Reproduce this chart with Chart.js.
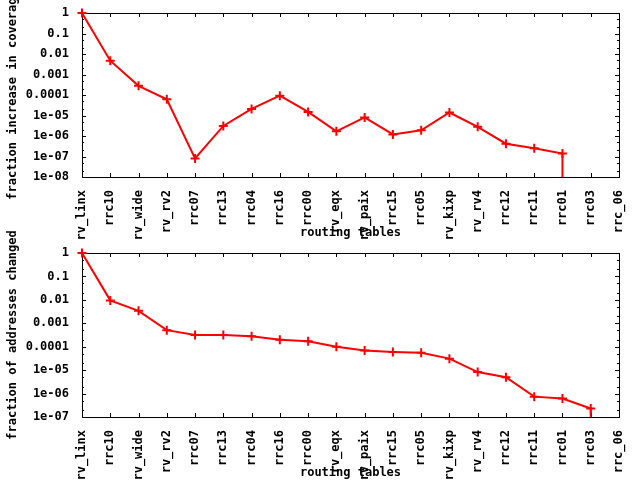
<!DOCTYPE html>
<html><head><meta charset="utf-8">
<script src="https://cdn.jsdelivr.net/npm/chart.js@4/dist/chart.umd.min.js"></script>
<style>
html,body{margin:0;padding:0;background:#fff;width:640px;height:480px;overflow:hidden;}
.wrap{position:absolute;left:0;width:640px;}
#w1{top:0;height:240px;}
#w2{top:220px;height:260px;}
canvas{display:block;}
</style></head><body>
<div class="wrap" id="w1"><canvas id="c1" width="640" height="240"></canvas></div>
<div class="wrap" id="w2"><canvas id="c2" width="640" height="260"></canvas></div>
<script>
const routingTables = ['rv_linx','rrc10','rv_wide','rv_rv2','rrc07','rrc13','rrc04','rrc16','rrc00','rv_eqx','rv_paix','rrc15','rrc05','rv_kixp','rv_rv4','rrc12','rrc11','rrc01','rrc03','rrc_06'];
const coverageIncrease = [1, 0.0047, 2.8e-4, 6.2e-5, 8.1e-8, 3.1e-6, 2.1e-5, 9.3e-5, 1.5e-5, 1.7e-6, 8.1e-6, 1.2e-6, 1.9e-6, 1.4e-5, 2.8e-6, 4.2e-7, 2.5e-7, 1.4e-7, 0, 0];
const addressesChanged = [1, 0.0095, 0.0034, 5.1e-4, 3.2e-4, 3.2e-4, 2.8e-4, 2.0e-4, 1.7e-4, 1.0e-4, 6.9e-5, 6.0e-5, 5.5e-5, 3.1e-5, 8.3e-6, 5.0e-6, 7.4e-7, 6.1e-7, 2.3e-7, 0];
const coverageTickValues = [1, 0.1, 0.01, 0.001, 0.0001, 1e-5, 1e-6, 1e-7, 1e-8];
const coverageTickLabels = ['1','0.1','0.01','0.001','0.0001','1e-05','1e-06','1e-07','1e-08'];
const changedTickValues = [1, 0.1, 0.01, 0.001, 0.0001, 1e-5, 1e-6, 1e-7];
const changedTickLabels = ['1','0.1','0.01','0.001','0.0001','1e-05','1e-06','1e-07'];
const xTitle = 'routing tables';
const coverageTitle = 'fraction increase in coverage';
const changedTitle = 'fraction of addresses changed';

const FONT = {family: '"DejaVu Sans Mono", monospace', size: 12, weight: 'bold'};
const FONT_CSS = 'bold 12px "DejaVu Sans Mono", monospace';

// gnuplot drops the line straight down when the next value is zero (log of zero)
function buildPoints(values, floor) {
  const pts = [];
  for (let i = 0; i < values.length; i++) {
    if (values[i] > 0) pts.push({x: routingTables[i], y: values[i]});
    else if (i > 0 && values[i-1] > 0) pts.push({x: routingTables[i-1], y: floor, drop: true});
  }
  return pts;
}

const frame = {
  id: 'frame',
  beforeDatasetsDraw(chart) {
    const {ctx, chartArea: a, scales: {x, y}} = chart;
    ctx.save();
    ctx.strokeStyle = '#000';
    ctx.lineWidth = 1;
    ctx.beginPath();
    x.ticks.forEach((t, i) => {
      const px = Math.round(x.getPixelForTick(i)) + 0.5;
      ctx.moveTo(px, a.bottom); ctx.lineTo(px, a.bottom - 4);
      ctx.moveTo(px, a.top); ctx.lineTo(px, a.top + 4);
    });
    y.ticks.forEach(t => {
      const py = Math.round(y.getPixelForValue(t.value)) + 0.5;
      ctx.moveTo(a.left, py); ctx.lineTo(a.left + 4, py);
      ctx.moveTo(a.right, py); ctx.lineTo(a.right - 4, py);
      [0.5, 0.2].forEach(m => {
        const v = t.value * m;
        if (v > y.min * 1.0001) {
          const pm = Math.round(y.getPixelForValue(v)) + 0.5;
          ctx.moveTo(a.left, pm); ctx.lineTo(a.left + 2, pm);
          ctx.moveTo(a.right, pm); ctx.lineTo(a.right - 2, pm);
        }
      });
    });
    ctx.stroke();
    ctx.strokeRect(a.left + 0.5, a.top + 0.5, a.right - a.left, a.bottom - a.top);
    ctx.restore();
  }
};

const yTitlePlugin = {
  id: 'yTitle',
  afterDraw(chart, args, opts) {
    const {ctx, chartArea: a} = chart;
    ctx.save();
    ctx.font = FONT_CSS;
    ctx.fillStyle = '#000';
    ctx.textAlign = 'center';
    ctx.textBaseline = 'middle';
    ctx.translate(opts.x, (a.top + a.bottom) / 2);
    ctx.rotate(-Math.PI / 2);
    ctx.fillText(opts.text, 0, 0);
    ctx.restore();
  }
};

function makeChart(id, values, tickValues, tickLabels, title, topPad) {
  const yMin = Math.min(...tickValues), yMax = Math.max(...tickValues);
  return new Chart(document.getElementById(id), {
    type: 'line',
    data: {
      labels: routingTables,
      datasets: [{
        data: buildPoints(values, yMin / 100),
        borderColor: '#ff0000',
        backgroundColor: '#ff0000',
        borderWidth: 2,
        pointStyle: 'cross',
        pointRadius: c => (c.raw && c.raw.drop) ? 0 : 4.5,
        pointBorderWidth: 2,
        pointBorderColor: '#ff0000',
        tension: 0,
        clip: {left: 10, right: 10, top: 10, bottom: 0}
      }]
    },
    options: {
      responsive: false,
      animation: false,
      events: [],
      layout: {padding: {left: 0, right: 21, top: topPad, bottom: 0}},
      plugins: {
        legend: {display: false},
        tooltip: {enabled: false},
        yTitle: {text: title, x: 13}
      },
      scales: {
        x: {
          type: 'category',
          offset: false,
          grid: {display: false},
          border: {display: false},
          ticks: {autoSkip: false, minRotation: 90, maxRotation: 90, padding: 5, color: '#000', font: FONT},
          title: {display: true, text: xTitle, color: '#000', font: FONT, padding: {top: 0, bottom: 0}},
          afterFit: s => { s.height = 63; }
        },
        y: {
          type: 'logarithmic',
          min: yMin,
          max: yMax,
          grid: {display: false},
          border: {display: false},
          afterBuildTicks: s => { s.ticks = tickValues.map(v => ({value: v})); },
          ticks: {color: '#000', font: FONT, padding: 5, callback: (v, i) => tickLabels[i]},
          afterFit: s => { s.width = 82; }
        }
      }
    },
    plugins: [frame, yTitlePlugin]
  });
}

makeChart('c1', coverageIncrease, coverageTickValues, coverageTickLabels, coverageTitle, 13);
makeChart('c2', addressesChanged, changedTickValues, changedTickLabels, changedTitle, 33);
</script>
</body></html>
